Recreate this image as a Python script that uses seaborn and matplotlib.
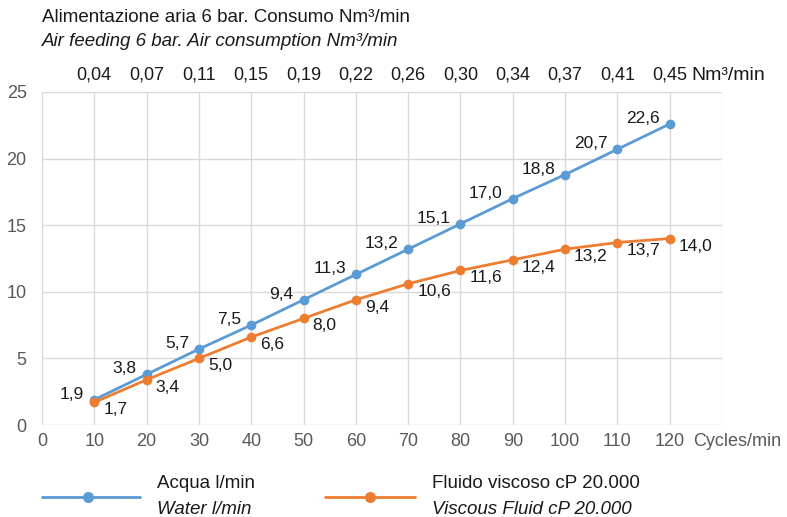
import matplotlib
matplotlib.use("Agg")
import matplotlib.pyplot as plt
import seaborn as sns
import pandas as pd
from matplotlib.lines import Line2D

cycles = [10, 20, 30, 40, 50, 60, 70, 80, 90, 100, 110, 120]
water = [1.9, 3.8, 5.7, 7.5, 9.4, 11.3, 13.2, 15.1, 17.0, 18.8, 20.7, 22.6]
viscous = [1.7, 3.4, 5.0, 6.6, 8.0, 9.4, 10.6, 11.6, 12.4, 13.2, 13.7, 14.0]
air = ["0,04", "0,07", "0,11", "0,15", "0,19", "0,22", "0,26", "0,30", "0,34", "0,37", "0,41", "0,45"]
x_ticks = [0, 10, 20, 30, 40, 50, 60, 70, 80, 90, 100, 110, 120]
y_ticks = [0, 5, 10, 15, 20, 25]

sns.set_theme(style="white")
plt.rcParams['font.family'] = ['Liberation Sans', 'DejaVu Sans']

BLUE = "#5B9BD5"
ORANGE = "#ED7D31"
GRID = "#D9D9D9"
TICK = "#595959"
TXT = "#1a1a1a"
FS = 13
FL = 13.5

df = pd.DataFrame({"cycles": cycles * 2,
                   "value": water + viscous,
                   "series": ["water"] * len(cycles) + ["viscous"] * len(cycles)})

fig = plt.figure(figsize=(7.87, 5.17), dpi=100)
ax = fig.add_axes([42 / 787, 1 - 425 / 517, (722 - 42) / 787, (425 - 92) / 517])

sns.lineplot(data=df, x="cycles", y="value", hue="series",
             palette={"water": BLUE, "viscous": ORANGE},
             marker="o", markersize=7, markeredgewidth=0, linewidth=2,
             legend=False, ax=ax)

ax.set_xlim(0, 130)
ax.set_ylim(0, 25)
ax.set_xticks(list(range(0, 131, 10)))
ax.set_xticklabels([str(t) for t in x_ticks] + [""])
ax.set_yticks(y_ticks)
ax.grid(True, color=GRID, linewidth=1)
for s in ax.spines.values():
    s.set_visible(False)
ax.tick_params(axis="both", length=0, labelsize=FS, colors=TICK)
ax.tick_params(axis="x", pad=6)
ax.tick_params(axis="y", pad=11)
ax.set_xlabel("")
ax.set_ylabel("")

ax.annotate("Cycles/min", xy=(120, 0), xytext=(23, -16), textcoords="offset pixels",
            ha="left", va="center", fontsize=FS, color=TICK)

# top axis
top = ax.secondary_xaxis("top")
top.set_xticks(cycles)
top.set_xticklabels(air)
top.tick_params(length=0, labelsize=FS, colors=TXT, pad=6)
for s in top.spines.values():
    s.set_visible(False)
ax.annotate("Nm³/min", xy=(120, 25), xytext=(22, 16), textcoords="offset pixels",
            ha="left", va="center", fontsize=14, color=TXT)

# data labels
for x, v in zip(cycles, water):
    ax.annotate(f"{v:.1f}".replace(".", ","), xy=(x, v), xytext=(-10, 1),
                textcoords="offset pixels", ha="right", va="baseline",
                fontsize=12.5, color=TXT)
for x, v in zip(cycles, viscous):
    ax.annotate(f"{v:.1f}".replace(".", ","), xy=(x, v), xytext=(9, -12),
                textcoords="offset pixels", ha="left", va="baseline",
                fontsize=12.5, color=TXT)

# titles
fig.text(42 / 787, 1 - 18 / 517, "Alimentazione aria 6 bar. Consumo Nm³/min",
         ha="left", va="center", fontsize=FL, color=TXT)
fig.text(42 / 787, 1 - 41 / 517, "Air feeding 6 bar. Air consumption Nm³/min",
         ha="left", va="center", fontsize=FL, style="italic", color=TXT)

# legend
ly = 1 - 497 / 517
fig.add_artist(Line2D([42 / 787, 140 / 787], [ly, ly], transform=fig.transFigure,
                      color=BLUE, linewidth=2))
fig.add_artist(Line2D([88 / 787], [ly], transform=fig.transFigure, color=BLUE,
                      marker="o", markersize=8, markeredgewidth=0))
fig.add_artist(Line2D([325 / 787, 415 / 787], [ly, ly], transform=fig.transFigure,
                      color=ORANGE, linewidth=2))
fig.add_artist(Line2D([370 / 787], [ly], transform=fig.transFigure, color=ORANGE,
                      marker="o", markersize=8, markeredgewidth=0))
fig.text(157 / 787, 1 - 484 / 517, "Acqua l/min", ha="left", va="center",
         fontsize=FL, color=TXT)
fig.text(157 / 787, 1 - 509 / 517, "Water l/min", ha="left", va="center",
         fontsize=FL, style="italic", color=TXT)
fig.text(432 / 787, 1 - 484 / 517, "Fluido viscoso cP 20.000", ha="left", va="center",
         fontsize=FL, color=TXT)
fig.text(432 / 787, 1 - 509 / 517, "Viscous Fluid cP 20.000", ha="left", va="center",
         fontsize=FL, style="italic", color=TXT)

fig.savefig("out.png", dpi=100)
